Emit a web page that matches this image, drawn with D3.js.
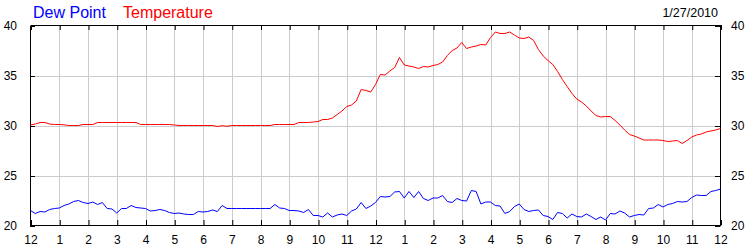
<!DOCTYPE html>
<html>
<head>
<meta charset="utf-8">
<script src="https://cdn.jsdelivr.net/npm/d3@7"></script>
<style>
  html, body { margin: 0; padding: 0; background: #fff; }
  svg { display: block; font-family: "Liberation Sans", Arial, sans-serif; }
</style>
</head>
<body>
<svg id="chart" width="750" height="250"></svg>
<script>
// ---- data (10-minute readings, midnight to midnight) ----
const dateLabel = "1/27/2010";
const seriesNames = ["Dew Point", "Temperature"];
const hourLabels = ["12","1","2","3","4","5","6","7","8","9","10","11","12","1","2","3","4","5","6","7","8","9","10","11","12"];
const yTicks = [20, 25, 30, 35, 40];

const temperature = [
  30.05, 30.15, 30.3, 30.3, 30.15, 30.1,
  30.1, 30.07, 30.0, 30.0, 30.0, 30.1,
  30.1, 30.1, 30.3, 30.3, 30.3, 30.3,
  30.3, 30.3, 30.3, 30.3, 30.3, 30.1,
  30.1, 30.1, 30.1, 30.1, 30.1, 30.1,
  30.05, 30.0, 30.0, 30.0, 30.0, 30.0,
  30.0, 30.0, 30.0, 29.9, 29.98, 29.92,
  30.0, 30.0, 30.0, 30.0, 30.0, 30.0,
  30.0, 30.0, 30.0, 30.1, 30.1, 30.1,
  30.1, 30.1, 30.3, 30.3, 30.3, 30.35,
  30.4, 30.6, 30.6, 30.75, 31.1, 31.45,
  31.9, 32.05, 32.45, 33.6, 33.5, 33.35,
  34.1, 35.1, 35.05, 35.45, 35.8, 36.8,
  36.05, 35.95, 35.85, 35.7, 35.9, 35.85,
  36.0, 36.1, 36.35, 37.0, 37.5, 37.75,
  38.3, 37.7, 37.85, 37.95, 38.1, 38.05,
  38.8, 39.35, 39.2, 39.2, 39.35, 39.05,
  38.75, 38.7, 38.85, 38.5, 37.6, 36.95,
  36.5, 36.1, 35.4, 34.6, 33.9, 33.2,
  32.65, 32.35, 31.95, 31.45, 31.0, 30.85,
  30.9, 30.9, 30.5, 30.05, 29.55, 29.1,
  28.95, 28.75, 28.55, 28.55, 28.55, 28.55,
  28.5, 28.4, 28.45, 28.5, 28.2, 28.5,
  28.85, 29.05, 29.15, 29.35, 29.45, 29.55,
  29.7
];

const dewPoint = [
  21.5, 21.2, 21.4, 21.35, 21.6, 21.7,
  21.75, 22.0, 22.15, 22.4, 22.5, 22.3,
  22.2, 22.35, 22.1, 22.3, 21.7, 21.65,
  21.25, 21.7, 21.7, 22.0, 21.8, 21.75,
  21.7, 21.45, 21.5, 21.6, 21.5, 21.3,
  21.2, 21.25, 21.15, 21.1, 21.1, 21.4,
  21.35, 21.4, 21.55, 21.4, 22.0, 21.7,
  21.7, 21.7, 21.7, 21.7, 21.7, 21.7,
  21.7, 21.7, 21.7, 22.1, 21.75, 21.7,
  21.5, 21.5, 21.45, 21.3, 21.6, 21.0,
  21.0, 20.85, 21.25, 20.85, 21.05, 21.15,
  21.0, 21.45, 21.65, 22.3, 21.7, 21.95,
  22.3, 22.9, 22.85, 22.9, 23.35, 23.4,
  22.75, 23.4, 22.8, 23.4, 22.7, 22.5,
  22.75, 22.75, 23.0, 22.4, 22.3, 22.7,
  22.5, 22.45, 23.5, 23.4, 22.15, 22.35,
  22.35, 22.0, 21.95, 21.2, 21.4, 21.9,
  22.15, 21.6, 21.4, 21.5, 21.55, 21.0,
  20.9, 20.6, 21.3, 21.2, 20.75, 21.15,
  20.9, 20.85, 21.15, 20.9, 20.6, 20.85,
  20.55, 21.2, 21.15, 21.45, 21.25, 20.85,
  21.0, 21.1, 21.05, 21.7, 21.75, 22.1,
  21.85, 22.1, 22.2, 22.4, 22.35, 22.4,
  22.8, 23.05, 23.0, 23.0, 23.4, 23.5,
  23.65
];

// ---- layout ----
const svg = d3.select("#chart");
const plotL = 30.5, plotR = 720.5, plotT = 25.5, plotB = 225.5;

const x = d3.scaleLinear().domain([0, 24]).range([plotL, plotR]);
const y = d3.scaleLinear().domain([20, 40]).range([plotB, plotT]);
const hourOf = i => i / 6;

// grid
const grid = svg.append("g").attr("stroke", "#cccccc").attr("stroke-width", 1);
grid.selectAll("line.v").data(d3.range(1, 24)).enter().append("line")
  .attr("x1", d => Math.round(x(d)) + 0.5).attr("x2", d => Math.round(x(d)) + 0.5)
  .attr("y1", plotT).attr("y2", plotB);
grid.selectAll("line.h").data(yTicks.slice(1, -1)).enter().append("line")
  .attr("x1", plotL).attr("x2", plotR)
  .attr("y1", d => Math.round(y(d)) + 0.5).attr("y2", d => Math.round(y(d)) + 0.5);

// axes (inward ticks)
const fmtHour = (d) => hourLabels[d];
const axB = d3.axisBottom(x).tickValues(d3.range(0, 25)).tickSize(-5).tickPadding(10).tickFormat(fmtHour);
const axT = d3.axisTop(x).tickValues(d3.range(0, 25)).tickSize(-5).tickFormat("");
const axL = d3.axisLeft(y).tickValues(yTicks).tickSize(-5).tickPadding(13);
const axR = d3.axisRight(y).tickValues(yTicks).tickSize(-5).tickPadding(11);

function styleAxis(g) {
  g.select(".domain").attr("stroke", "#000").attr("stroke-width", 1);
  g.selectAll(".tick line").attr("stroke", "#000");
  g.selectAll("text").attr("fill", "#000").attr("font-size", "12px")
    .attr("font-family", '"Liberation Sans", Arial, sans-serif');
}
svg.append("g").attr("transform", `translate(0,${plotB - 0.5})`).call(axB).call(styleAxis)
  .selectAll(".tick line").attr("transform", "translate(0.5,0)");
svg.append("g").attr("transform", `translate(0,${plotT - 0.5})`).call(axT).call(styleAxis)
  .selectAll(".tick line").attr("transform", "translate(0.5,0)");
svg.append("g").attr("transform", `translate(${plotL - 0.5},0)`).call(axL).call(styleAxis)
  .selectAll(".tick line").attr("transform", "translate(0,0.5)");
svg.append("g").attr("transform", `translate(${plotR - 0.5},0)`).call(axR).call(styleAxis)
  .selectAll(".tick line").attr("transform", "translate(0,0.5)");

// lines
const line = d3.line().x((d, i) => x(hourOf(i))).y(d => y(d));
svg.append("path").datum(temperature).attr("d", line)
  .attr("fill", "none").attr("stroke", "#ff0000").attr("stroke-width", 1);
svg.append("path").datum(dewPoint).attr("d", line)
  .attr("fill", "none").attr("stroke", "#0000ff").attr("stroke-width", 1);

// legend + date
svg.append("text").attr("x", 33).attr("y", 18).attr("font-size", "16px")
  .attr("fill", "#0000ff").text(seriesNames[0]);
svg.append("text").attr("x", 123).attr("y", 18).attr("font-size", "16px")
  .attr("fill", "#ff0000").text(seriesNames[1]);
svg.append("text").attr("x", 718).attr("y", 17).attr("font-size", "12.5px")
  .attr("text-anchor", "end").attr("fill", "#000").text(dateLabel);
</script>
</body>
</html>
